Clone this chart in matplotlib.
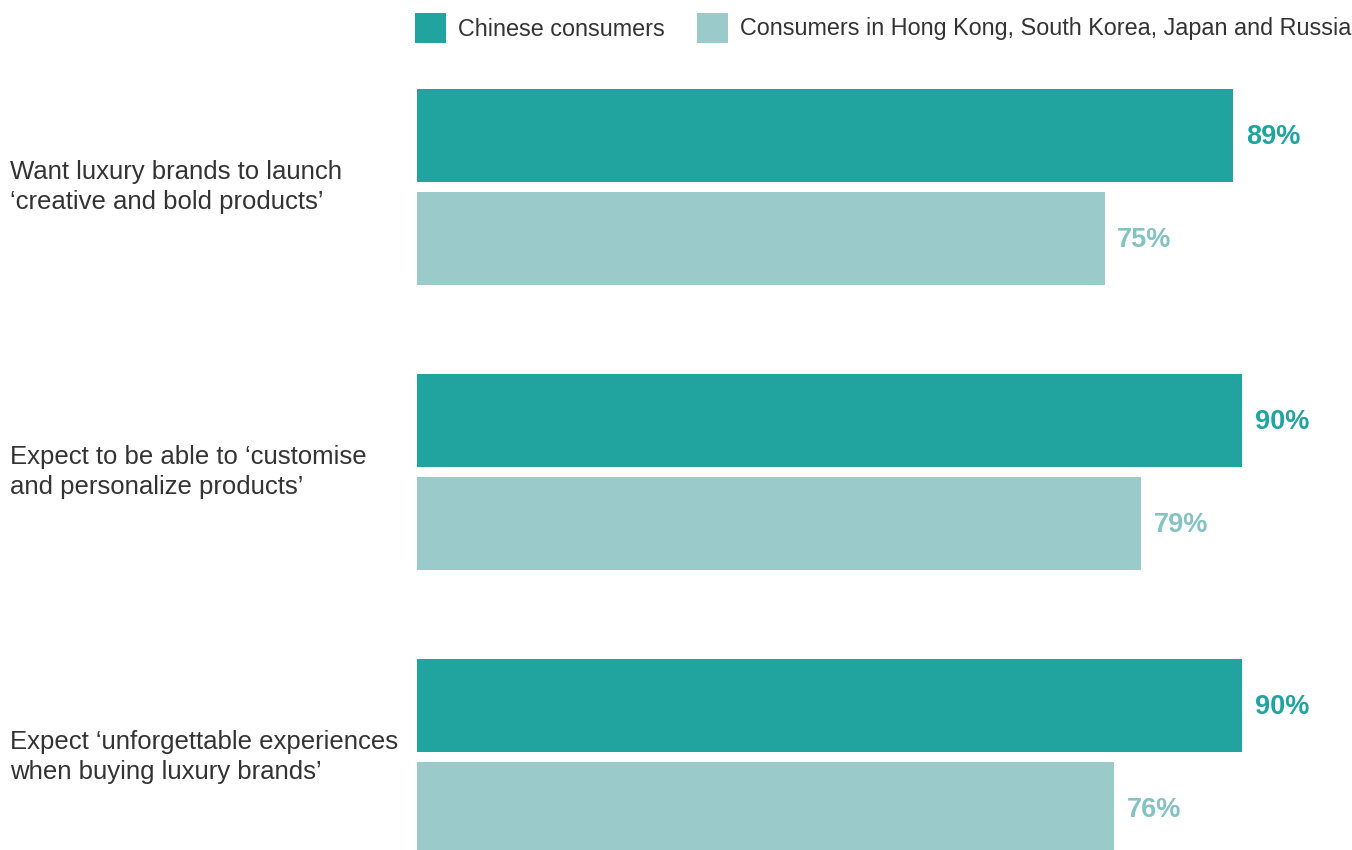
import matplotlib.pyplot as plt
import matplotlib.transforms as mtransforms
from matplotlib.patches import Rectangle

categories = [
    "Want luxury brands to launch\n\u2018creative and bold products\u2019",
    "Expect to be able to \u2018customise\nand personalize products\u2019",
    "Expect \u2018unforgettable experiences\nwhen buying luxury brands\u2019",
]
chinese = [89, 90, 90]
others = [75, 79, 76]
series_names = ["Chinese consumers",
                "Consumers in Hong Kong, South Korea, Japan and Russia"]

dark = "#21a3a0"
light = "#9bcaca"
light_txt = "#85c2c2"
txt = "#333333"

plt.rcParams['font.family'] = ['Liberation Sans', 'DejaVu Sans']

fig = plt.figure(figsize=(13.52, 8.5), dpi=100)
ax = fig.add_axes([417 / 1352, 0, 1 - 417 / 1352, 1])

h = 0.326
off = 0.1807
ys = list(range(len(categories)))
ax.barh([y - off for y in ys], chinese, height=h, color=dark)
ax.barh([y + off for y in ys], others, height=h, color=light)

for y, a, b in zip(ys, chinese, others):
    ax.text(a + 1.4, y - off + 0.005, f"{a}%", va="center", ha="left",
            fontsize=19.5, fontweight="bold", color=dark)
    ax.text(b + 1.4, y + off + 0.005, f"{b}%", va="center", ha="left",
            fontsize=19.5, fontweight="bold", color=light_txt)

trans = mtransforms.blended_transform_factory(fig.transFigure, ax.transData)
for y, c in zip(ys, categories):
    ax.text(10 / 1352, y, c, transform=trans, va="center", ha="left",
            fontsize=18.5, color=txt, linespacing=1.35)

ax.set_xlim(0, 102)
ax.set_ylim(2.3263, -0.6561)
ax.axis("off")

# legend drawn by hand along the top
W, H = 1352, 850
legend_items = [(415, dark, series_names[0]), (697, light, series_names[1])]
for x0, col, name in legend_items:
    fig.add_artist(Rectangle((x0 / W, 1 - 43 / H), 31 / W, 30 / H,
                             transform=fig.transFigure, color=col, lw=0))
    fig.text((x0 + 43) / W, 1 - 29 / H, name, va="center", ha="left",
             fontsize=16.8, color=txt)

fig.savefig("out.png", dpi=100)
